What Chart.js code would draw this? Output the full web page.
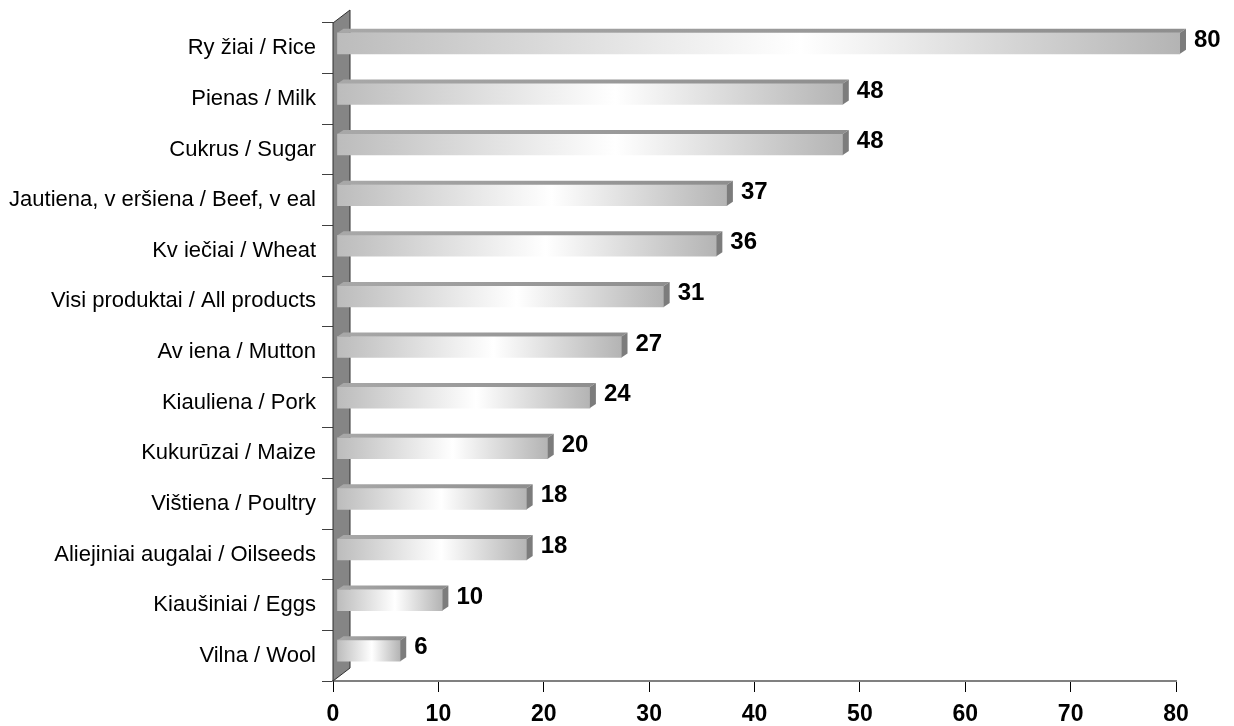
<!DOCTYPE html>
<html>
<head>
<meta charset="utf-8">
<script src="https://cdn.jsdelivr.net/npm/chart.js@4.4.0/dist/chart.umd.min.js"></script>
<style>
  html, body { margin: 0; padding: 0; background: #fff; }
  #wrap { width: 1234px; height: 726px; }
</style>
</head>
<body>
<div id="wrap"><canvas id="chart1" width="1234" height="726"></canvas></div>
<script>
// produktai (kategorijos) ir reiksmes
const categories = [
    'Ry žiai / Rice',
    'Pienas / Milk',
    'Cukrus / Sugar',
    'Jautiena, v eršiena / Beef, v eal',
    'Kv iečiai / Wheat',
    'Visi produktai / All products',
    'Av iena / Mutton',
    'Kiauliena / Pork',
    'Kukurūzai / Maize',
    'Vištiena / Poultry',
    'Aliejiniai augalai / Oilseeds',
    'Kiaušiniai / Eggs',
    'Vilna / Wool'
];
const values = [80, 48, 48, 37, 36, 31, 27, 24, 20, 18, 18, 10, 6];
const xTicks = [0, 10, 20, 30, 40, 50, 60, 70, 80];

const FONT = "'Liberation Sans', Arial, sans-serif";
const SHIFT_X = 4, SHIFT_Y = -5;   // stulpeliu poslinkis (3D gylis)
const DEPTH_X = 6, DEPTH_Y = 4;

function barGradient(context) {
    const chart = context.chart;
    if (!chart.chartArea) return '#c8c8c8';
    const x = chart.scales.x;
    const x0 = x.getPixelForValue(0);
    const x1 = x.getPixelForValue(values[context.dataIndex]);
    const g = chart.ctx.createLinearGradient(x0, 0, x1, 0);
    g.addColorStop(0, '#bcbcbc');
    g.addColorStop(0.55, '#ffffff');
    g.addColorStop(1, '#b4b4b4');
    return g;
}

// 3D siena ir stulpeliu sonai
const threeD = {
    id: 'threeD',
    beforeDatasetsDraw(chart) {
        const ctx = chart.ctx;
        const area = chart.chartArea;
        const x0 = chart.scales.x.getPixelForValue(0);
        ctx.save();
        ctx.beginPath();
        ctx.moveTo(x0, area.bottom);
        ctx.lineTo(x0, area.top);
        ctx.lineTo(x0 + 17, area.top - 13);
        ctx.lineTo(x0 + 17, area.bottom - 13);
        ctx.closePath();
        ctx.fillStyle = '#858585';
        ctx.fill();
        ctx.strokeStyle = '#303030';
        ctx.lineWidth = 1;
        ctx.stroke();
        ctx.restore();

        ctx.save();
        ctx.translate(SHIFT_X, SHIFT_Y);
    },
    afterDatasetsDraw(chart) {
        const ctx = chart.ctx;
        const meta = chart.getDatasetMeta(0);
        meta.data.forEach((el, i) => {
            const top = el.y - el.height / 2;
            const bottom = el.y + el.height / 2;
            const g = ctx.createLinearGradient(el.base, 0, el.x, 0);
            g.addColorStop(0, '#a8a8a8');
            g.addColorStop(1, '#8e8e8e');
            ctx.beginPath();
            ctx.moveTo(el.base, top);
            ctx.lineTo(el.x, top);
            ctx.lineTo(el.x + DEPTH_X, top - DEPTH_Y);
            ctx.lineTo(el.base + DEPTH_X, top - DEPTH_Y);
            ctx.closePath();
            ctx.fillStyle = g;
            ctx.fill();

            ctx.beginPath();
            ctx.moveTo(el.x, top);
            ctx.lineTo(el.x + DEPTH_X, top - DEPTH_Y);
            ctx.lineTo(el.x + DEPTH_X, bottom - DEPTH_Y);
            ctx.lineTo(el.x, bottom);
            ctx.closePath();
            ctx.fillStyle = '#7c7c7c';
            ctx.fill();

            ctx.fillStyle = '#000';
            ctx.font = 'bold 24px ' + FONT;
            ctx.textAlign = 'left';
            ctx.textBaseline = 'middle';
            ctx.fillText(String(values[i]), el.x + DEPTH_X + 8, el.y - 3);
        });
        ctx.restore();
    }
};

const ctx = document.getElementById('chart1').getContext('2d');
const chart1 = new Chart(ctx, {
    type: 'bar',
    data: {
        labels: categories,
        datasets: [{
            data: values,
            backgroundColor: barGradient,
            borderWidth: 0,
            barThickness: 21
        }]
    },
    options: {
        indexAxis: 'y',
        responsive: false,
        animation: false,
        layout: {
            padding: { top: 23, right: 58, left: 0, bottom: 0 }
        },
        plugins: {
            legend: { display: false },
            tooltip: { enabled: false }
        },
        scales: {
            x: {
                min: 0,
                max: 80,
                afterBuildTicks: (scale) => {
                    scale.ticks = xTicks.map(v => ({ value: v }));
                },
                afterFit: (scale) => { scale.height = 45; },
                border: { display: true, color: '#808080', width: 2 },
                grid: {
                    drawOnChartArea: false,
                    drawTicks: true,
                    tickLength: 11,
                    tickColor: '#000'
                },
                ticks: {
                    color: '#000',
                    padding: 9,
                    font: { family: FONT, size: 23, weight: 'bold' }
                }
            },
            y: {
                afterFit: (scale) => { scale.width = 333; },
                border: { display: true, color: '#303030', width: 1 },
                grid: {
                    offset: true,
                    drawOnChartArea: false,
                    drawTicks: true,
                    tickLength: 11,
                    tickColor: '#404040'
                },
                ticks: {
                    color: '#000',
                    padding: 6,
                    autoSkip: false,
                    font: { family: FONT, size: 22 }
                }
            }
        }
    },
    plugins: [threeD]
});
</script>
</body>
</html>
